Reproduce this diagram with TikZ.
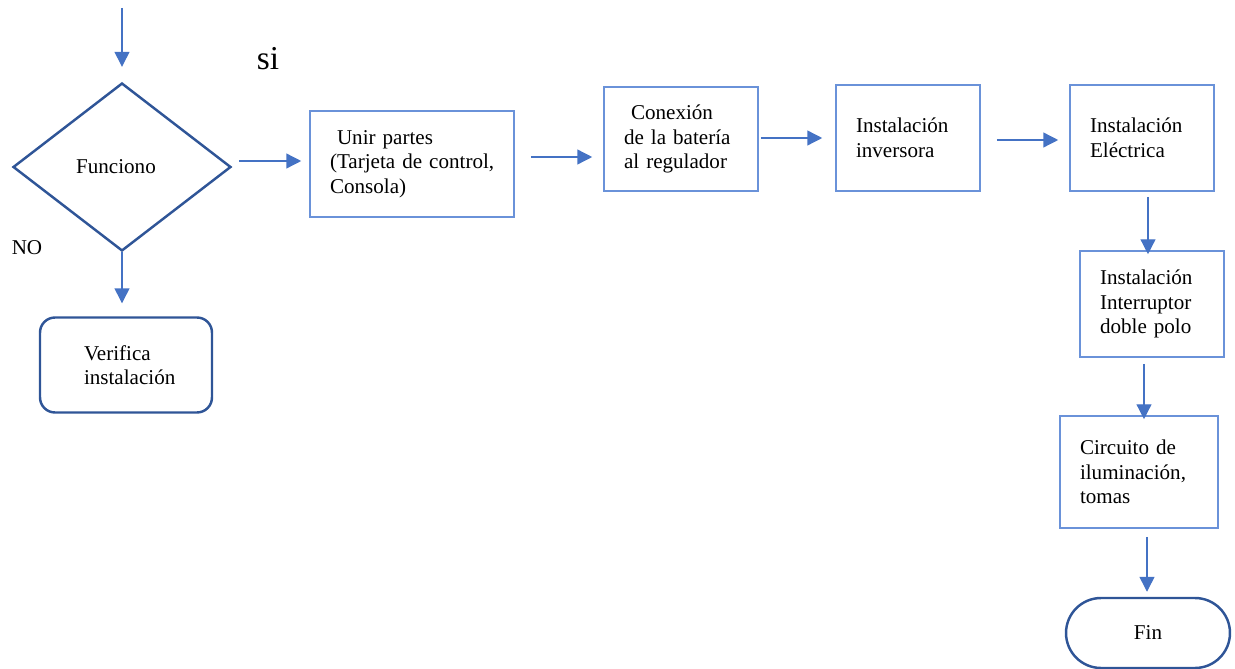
\documentclass[tikz,border=0pt]{standalone}
\usepackage{fontspec}
\setmainfont{Liberation Serif}
\usetikzlibrary{shapes.geometric, arrows.meta, positioning}
\definecolor{azul}{HTML}{4472C4}
\definecolor{azulcaja}{HTML}{6A92D9}
\definecolor{azuloscuro}{HTML}{2F5597}

\begin{document}
\begin{tikzpicture}[x=0.02cm, y=-0.02cm, font=\fontsize{12}{14}\selectfont,
    caja/.style={draw=azulcaja, line width=0.9pt, align=left, inner xsep=0.4cm, inner ysep=0pt},
    borde/.style={draw=azuloscuro, line width=1.4pt},
    flecha/.style={draw=azul, line width=0.8pt, -{Triangle[length=8.5pt, width=8.5pt]}}]
    \useasboundingbox (0,0) rectangle (1235,669);
    % decisión
    \coordinate (inicio) at (122,8);
    \node[borde, diamond, minimum width=4.36cm, minimum height=3.36cm, inner sep=0pt] (dec) at (122,167) {Funciono\hspace*{0.24cm}};
    \node[font=\fontsize{19}{22}\selectfont, anchor=base] (si) at (268,70) {si};
    \node[anchor=base] (no) at (27,255) {NO};
    % rama NO
    \node[borde, rounded corners=0.3cm, align=left, inner xsep=0.4cm, text width=2.64cm, minimum height=1.9cm] (verif) at (126,365) {\hspace*{0.48cm}Verifica\\\hspace*{0.48cm}instalación};
    % rama si
    \node[caja, text width=3.28cm, minimum height=2.12cm] (unir) at (412,164) {\hspace*{0.14cm}Unir partes\\\mbox{(Tarjeta de control,}\\Consola)};
    \node[caja, text width=2.28cm, minimum height=2.08cm] (conex) at (681,139) {\hspace*{0.14cm}Conexión\\de la batería\\al regulador};
    \node[caja, text width=2.08cm, minimum height=2.12cm] (inv) at (908,138) {Instalación\\inversora};
    \node[caja, text width=2.08cm, minimum height=2.12cm] (elec) at (1142,138) {Instalación\\Eléctrica};
    \node[caja, text width=2.08cm, minimum height=2.12cm] (inter) at (1152,304) {Instalación\\Interruptor\\doble polo};
    \node[caja, text width=2.36cm, minimum height=2.24cm] (circ) at (1139,472) {Circuito de\\iluminación,\\tomas};
    \node[borde, rounded corners=0.7cm, minimum width=3.28cm, minimum height=1.4cm] (fin) at (1148,633) {Fin};
    % flechas
    \draw[flecha, shorten >=0.3cm] (inicio) -- (dec.north);
    \draw[flecha, shorten >=0.26cm] (dec.south) -- (dec.south |- verif.north);
    \draw[flecha, shorten <=0.14cm, shorten >=0.16cm] ([yshift=0.12cm]dec.east) -- ([yshift=0.12cm]dec.east -| unir.west);
    \draw[flecha, shorten <=0.32cm, shorten >=0.22cm] ([yshift=0.14cm]unir.east) -- ([yshift=0.14cm]unir.east -| conex.west);
    \draw[flecha, shorten <=0.04cm, shorten >=0.26cm] ([yshift=0.02cm]conex.east) -- ([yshift=0.02cm]conex.east -| inv.west);
    \draw[flecha, shorten <=0.32cm, shorten >=0.22cm] ([yshift=-0.04cm]inv.east) -- ([yshift=-0.04cm]inv.east -| elec.west);
    \draw[flecha, shorten <=0.1cm, shorten >=-0.08cm] ([xshift=0.12cm]elec.south) -- ([xshift=0.12cm]elec.south |- inter.north);
    \draw[flecha, shorten <=0.12cm, shorten >=-0.08cm] ([xshift=-0.16cm]inter.south) -- ([xshift=-0.16cm]inter.south |- circ.north);
    \draw[flecha, shorten <=0.16cm, shorten >=0.1cm] ([xshift=0.16cm]circ.south) -- ([xshift=0.16cm]circ.south |- fin.north);
\end{tikzpicture}
\end{document}
